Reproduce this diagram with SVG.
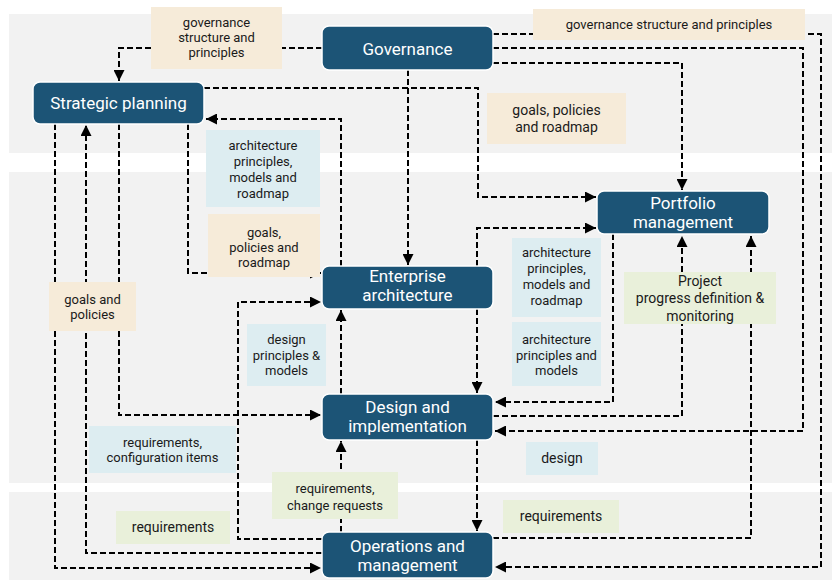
<svg xmlns="http://www.w3.org/2000/svg" width="832" height="580" viewBox="0 0 832 580">
<defs>
<marker id="ah" markerUnits="userSpaceOnUse" markerWidth="11" markerHeight="11" viewBox="0 0 10 10" refX="10" refY="5" orient="auto">
<path d="M0,0 L10,5 L0,10 z" fill="#000"/>
</marker>
<style>
.band{fill:#f2f2f2}
.node{fill:#1c5476;stroke:#ffffff;stroke-width:1.5}
.nt{font-family:Roboto,"Liberation Sans",sans-serif;font-size:17px;fill:#ffffff;text-anchor:middle}
.lt{font-family:Roboto,"Liberation Sans",sans-serif;font-size:13px;fill:#1a1a1a;text-anchor:middle}
.lt14{font-size:14px}
.beige{fill:#f6ebd9}
.blue{fill:#ddedf1}
.green{fill:#e9f0da}
.c path{fill:none;stroke:#000;stroke-width:2;stroke-dasharray:6 3}
.c path.a{marker-end:url(#ah)}
</style>
</defs>
<rect width="832" height="580" fill="#ffffff"/>
<rect class="band" x="9" y="14" width="823" height="139"/>
<rect class="band" x="9" y="172" width="823" height="311"/>
<rect class="band" x="9" y="492" width="823" height="88"/>

<g id="connectors" class="c">
<path class="a" d="M322,48 H119 V81"/>
<path class="a" d="M493,34 H821 V567 H495"/>
<path class="a" d="M493,48 H803 V431 H495"/>
<path class="a" d="M493,63 H682 V190"/>
<path class="a" d="M408,70 V265"/>
<path class="a" d="M204,88 H478 V197 H596"/>
<path class="a" d="M341,266 V119 H206"/>
<path class="a" d="M188,124 V273 H321"/>
<path class="a" d="M341,394 V310"/>
<path class="a" d="M477,309 V393"/>
<path class="a" d="M477,266 V228 H596"/>
<path class="a" d="M613,234 V402 H495"/>
<path class="a" d="M493,416 H682 V236"/>
<path class="a" d="M493,538 H751 V236"/>
<path class="a" d="M477,440 V531"/>
<path class="a" d="M341,532 V441"/>
<path class="a" d="M322,539 H238 V302 H321"/>
<path class="a" d="M322,553 H86 V125"/>
<path class="a" d="M55,124 V568 H321"/>
<path class="a" d="M119,124 V415 H321"/>
</g>

<g id="labels">
<g id="l-gov-sp"><rect class="beige" x="151" y="7" width="131" height="62"/>
<text class="lt" x="216.5" y="26.5">governance</text><text class="lt" x="216.5" y="41.5">structure and</text><text class="lt" x="216.5" y="56.5">principles</text></g>
<g id="l-gov-ops"><rect class="beige" x="533" y="9" width="272" height="31"/>
<text class="lt" x="669" y="29">governance structure and principles</text></g>
<g id="l-sp-pm"><rect class="beige" x="487" y="93" width="139" height="51"/>
<text class="lt lt14" x="556.5" y="115">goals, policies</text><text class="lt lt14" x="556.5" y="132">and roadmap</text></g>
<g id="l-ea-sp"><rect class="blue" x="206" y="130" width="114" height="77"/>
<text class="lt" x="263" y="149.5">architecture</text><text class="lt" x="263" y="165.5">principles,</text><text class="lt" x="263" y="181.5">models and</text><text class="lt" x="263" y="197.5">roadmap</text></g>
<g id="l-sp-ea"><rect class="beige" x="208" y="214" width="112" height="63"/>
<text class="lt" x="264" y="236.5">goals,</text><text class="lt" x="264" y="251.5">policies and</text><text class="lt" x="264" y="266.5">roadmap</text></g>
<g id="l-sp-ops"><rect class="beige" x="49" y="282" width="87" height="49"/>
<text class="lt" x="92.5" y="303.5">goals and</text><text class="lt" x="92.5" y="318.5">policies</text></g>
<g id="l-ops-ea"><rect class="blue" x="247" y="324" width="79" height="62"/>
<text class="lt" x="286.5" y="343.5">design</text><text class="lt" x="286.5" y="359.5">principles &amp;</text><text class="lt" x="286.5" y="374.5">models</text></g>
<g id="l-ea-pm"><rect class="blue" x="512" y="238" width="89" height="79"/>
<text class="lt" x="556.5" y="256.5">architecture</text><text class="lt" x="556.5" y="272.5">principles,</text><text class="lt" x="556.5" y="288.5">models and</text><text class="lt" x="556.5" y="304.5">roadmap</text></g>
<g id="l-pm-di"><rect class="blue" x="512" y="322" width="89" height="64"/>
<text class="lt" x="556.5" y="343.5">architecture</text><text class="lt" x="556.5" y="359.5">principles and</text><text class="lt" x="556.5" y="374.5">models</text></g>
<g id="l-proj"><rect class="green" x="624" y="272" width="152" height="52"/>
<text class="lt lt14" x="700" y="286">Project</text><text class="lt lt14" x="700" y="303">progress definition &amp;</text><text class="lt lt14" x="700" y="321">monitoring</text></g>
<g id="l-ops-sp"><rect class="blue" x="89" y="426" width="147" height="47"/>
<text class="lt" x="162.5" y="446.5">requirements,</text><text class="lt" x="162.5" y="461.5">configuration items</text></g>
<g id="l-ops-di"><rect class="green" x="272" y="472" width="126" height="47"/>
<text class="lt" x="335" y="492.5">requirements,</text><text class="lt" x="335" y="509.5">change requests</text></g>
<g id="l-req-left"><rect class="green" x="116" y="511" width="114" height="33"/>
<text class="lt lt14" x="173" y="532">requirements</text></g>
<g id="l-design"><rect class="blue" x="526" y="442" width="72" height="33"/>
<text class="lt lt14" x="562" y="463">design</text></g>
<g id="l-req-right"><rect class="green" x="503" y="500" width="116" height="33"/>
<text class="lt lt14" x="561" y="521">requirements</text></g>
</g>

<g id="governance"><rect class="node" x="322" y="26" width="171" height="44" rx="7"/>
<text class="nt" x="407.5" y="55">Governance</text></g>
<g id="strategic-planning"><rect class="node" x="33" y="82" width="171" height="42" rx="7"/>
<text class="nt" x="118.5" y="109">Strategic planning</text></g>
<g id="enterprise-architecture"><rect class="node" x="322" y="266" width="171" height="43" rx="7"/>
<text class="nt" x="407.5" y="282">Enterprise</text><text class="nt" x="407.5" y="301">architecture</text></g>
<g id="design-implementation"><rect class="node" x="322" y="394" width="171" height="46" rx="7"/>
<text class="nt" x="407.5" y="413">Design and</text><text class="nt" x="407.5" y="432">implementation</text></g>
<g id="operations-management"><rect class="node" x="322" y="532" width="171" height="46" rx="7"/>
<text class="nt" x="407.5" y="552">Operations and</text><text class="nt" x="407.5" y="571">management</text></g>
<g id="portfolio-management"><rect class="node" x="597" y="191" width="172" height="43" rx="7"/>
<text class="nt" x="683" y="209">Portfolio</text><text class="nt" x="683" y="228">management</text></g>
</svg>
